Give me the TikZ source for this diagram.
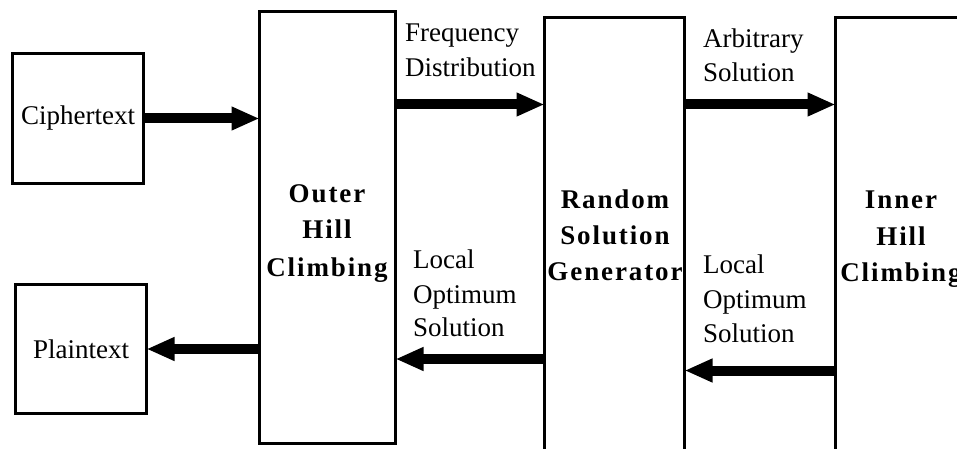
\documentclass[tikz,border=0pt]{standalone}
\usepackage{fontspec}
\setmainfont{Liberation Serif}
\usetikzlibrary{arrows.meta}
\tikzset{
  box/.style={draw, line width=3pt, inner sep=0pt, outer sep=0pt, font=\fontsize{27}{32}\selectfont},
  fat/.style={line width=10pt, -{Triangle[length=28pt,width=22pt]}},
  lbl/.style={anchor=base west, inner sep=0pt, font=\fontsize{27}{32}\selectfont},
  blbl/.style={anchor=base, inner sep=0pt, font=\fontsize{27}{32}\selectfont\bfseries\addfontfeatures{LetterSpace=7}},
}
\begin{document}
\begin{tikzpicture}[x=1pt,y=-1pt]
\useasboundingbox (0,0) rectangle (957,449);
\clip (0,0) rectangle (957,449);
% boxes
\node[box, minimum width=131pt, minimum height=130pt] (cipher) at (78,118.5) {Ciphertext};
\node[box, minimum width=131pt, minimum height=129pt] (plain) at (81,349) {Plaintext};
\node[box, minimum width=136pt, minimum height=432pt] (outer) at (327.5,227.5) {};
\node[box, minimum width=140pt, minimum height=482pt] (random) at (614.5,258.5) {};
\node[box, minimum width=140pt, minimum height=482pt] (inner) at (905.5,258.5) {};
% box labels
\node[blbl] (o1) at (327,202) {Outer};
\node[blbl] (o2) at (327,238) {Hill};
\node[blbl] (o3) at (327,276) {Climbing};
\node[blbl] (r1) at (615,208) {Random};
\node[blbl] (r2) at (615,244) {Solution};
\node[blbl] (r3) at (615,280) {Generator};
\node[blbl] (i1) at (901,208) {Inner};
\node[blbl] (i2) at (901,245) {Hill};
\node[blbl] (i3) at (901,281) {Climbing};
% connector labels
\node[lbl] (f1) at (405,42) {Frequency};
\node[lbl] (f2) at (405,77) {Distribution};
\node[lbl] (a1) at (703,48) {Arbitrary};
\node[lbl] (a2) at (703,82) {Solution};
\node[lbl] (l1) at (413,268) {Local};
\node[lbl] (l2) at (413,303) {Optimum};
\node[lbl] (l3) at (413,336) {Solution};
\node[lbl] (m1) at (703,273) {Local};
\node[lbl] (m2) at (703,308) {Optimum};
\node[lbl] (m3) at (703,342) {Solution};
% connectors
\draw[fat] (cipher.east) -- (cipher.east -| outer.west);
\draw[fat] (plain.east -| outer.west) -- (plain.east);
\draw[fat] (outer.east |- 0,104.5) -- (random.west |- 0,104.5);
\draw[fat] (random.east |- 0,104.5) -- (inner.west |- 0,104.5);
\draw[fat] (random.west |- 0,359) -- (outer.east |- 0,359);
\draw[fat] (inner.west |- 0,370.5) -- (random.east |- 0,370.5);
\end{tikzpicture}
\end{document}
